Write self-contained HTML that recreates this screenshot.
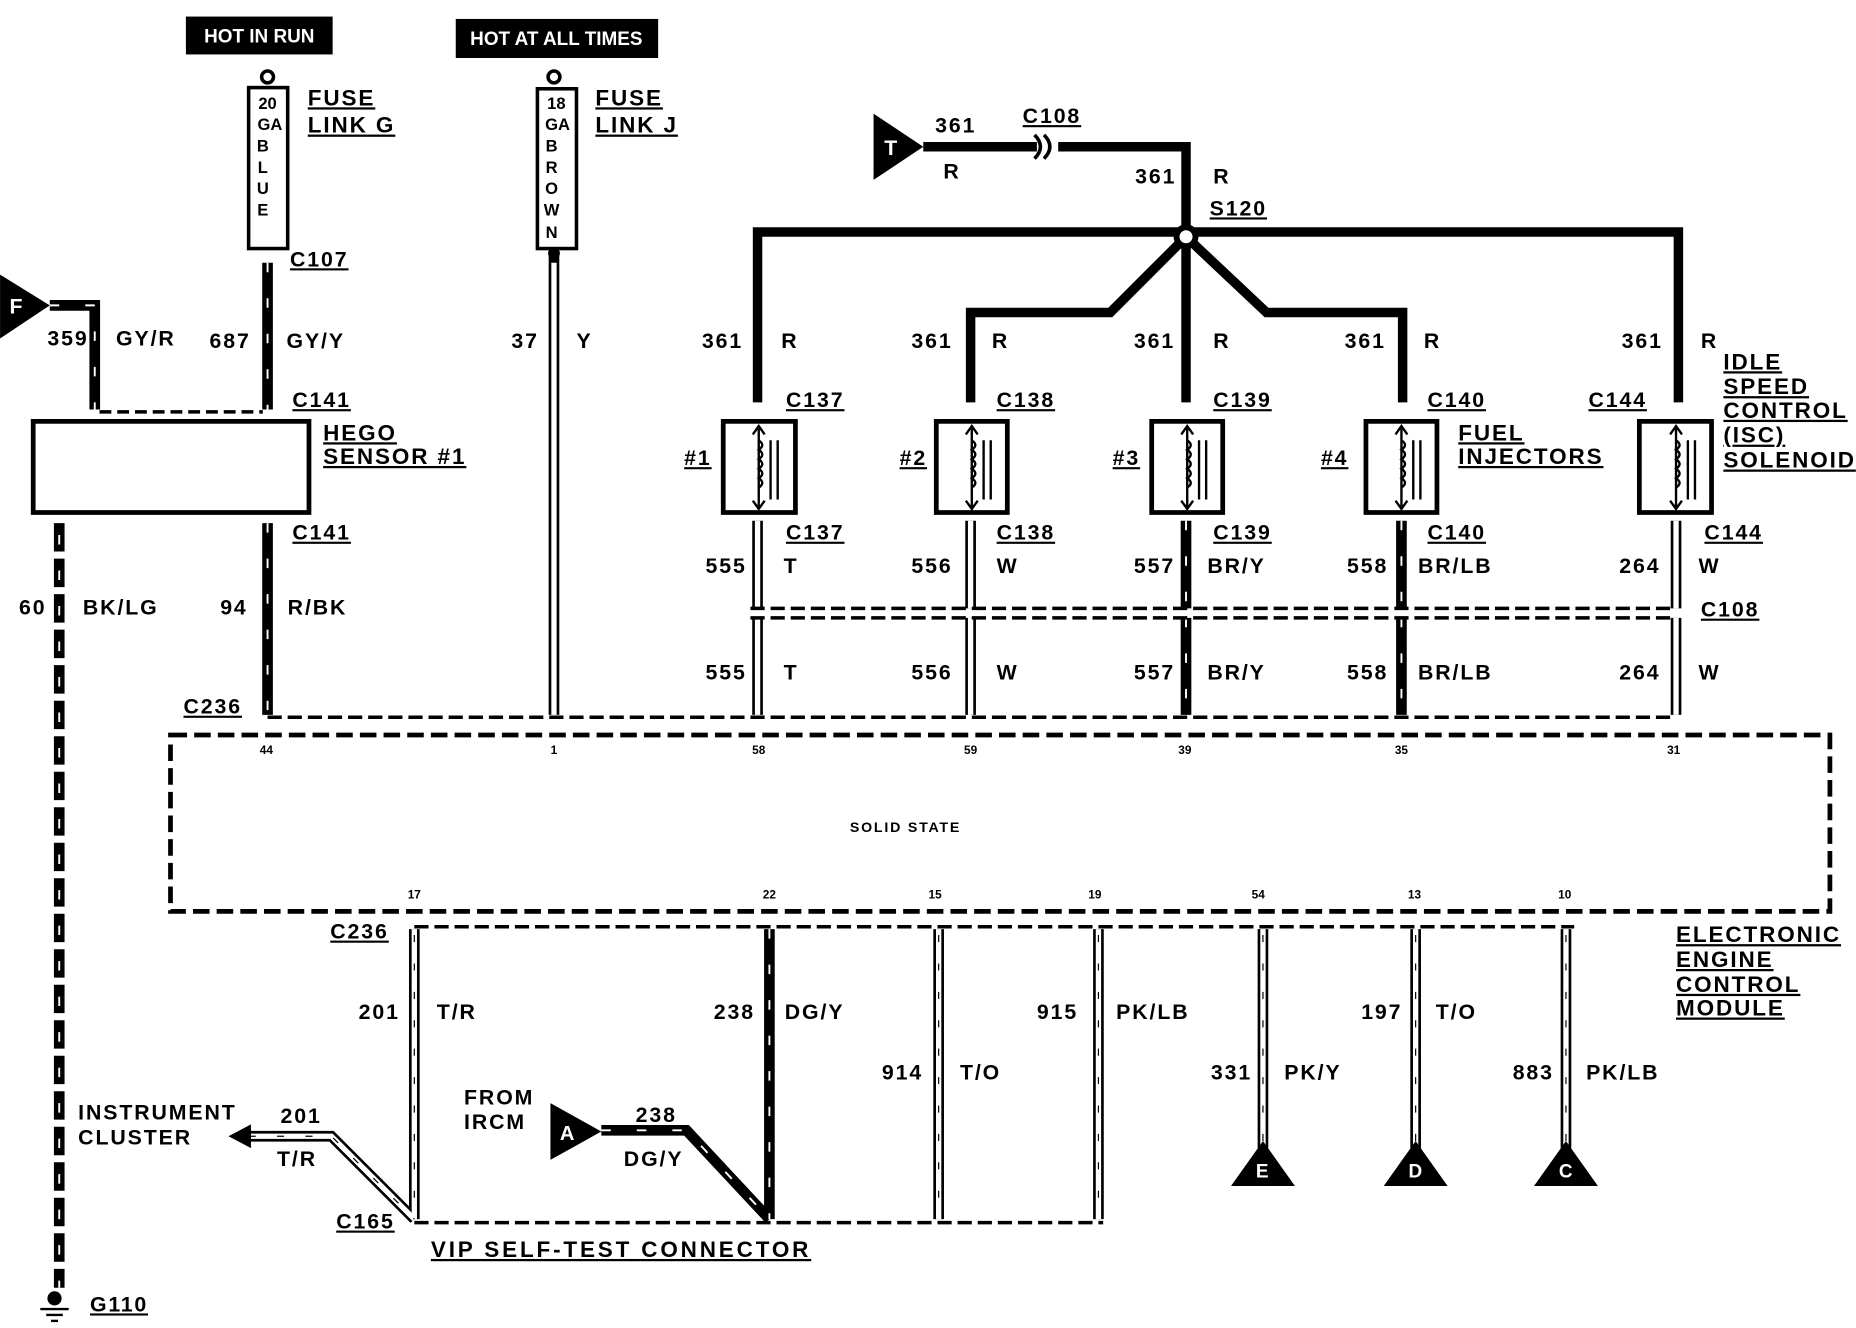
<!DOCTYPE html>
<html><head><meta charset="utf-8"><style>
html,body{margin:0;padding:0;background:#fff;}
svg{display:block;}
text{font-family:"Liberation Sans",sans-serif;font-weight:bold;fill:#000;}
.ls text{letter-spacing:1.6px;}
</style></head><body>
<svg width="1856" height="1328" viewBox="0 0 1568 1122" xmlns="http://www.w3.org/2000/svg">
<rect width="1568" height="1122" fill="#fff"/>

<!-- power labels -->
<rect x="157" y="14" width="124" height="32" fill="#000"/>
<text x="219" y="36" font-size="16" style="fill:#fff" text-anchor="middle">HOT IN RUN</text>
<rect x="385" y="16" width="171" height="33" fill="#000"/>
<text x="470" y="38" font-size="16" style="fill:#fff" text-anchor="middle">HOT AT ALL TIMES</text>

<!-- fuses -->
<circle cx="226" cy="65" r="5" fill="none" stroke="#000" stroke-width="3"/>
<rect x="210" y="74" width="33" height="136" fill="#fff" stroke="#000" stroke-width="3"/>
<g font-size="14" text-anchor="middle" style="font-weight:normal">
<text x="226" y="92">20</text><text x="228" y="110">GA</text><text x="222" y="128">B</text><text x="222" y="146">L</text><text x="222" y="164">U</text><text x="222" y="182">E</text>
</g>
<circle cx="468" cy="65" r="5" fill="none" stroke="#000" stroke-width="3"/>
<rect x="454" y="75" width="33" height="135" fill="#fff" stroke="#000" stroke-width="3"/>
<g font-size="14" text-anchor="middle" style="font-weight:normal">
<text x="470" y="92">18</text><text x="471" y="110">GA</text><text x="466" y="128">B</text><text x="466" y="146">R</text><text x="466" y="164">O</text><text x="466" y="182">W</text><text x="466" y="201">N</text>
</g>
<g font-size="19" text-decoration="underline" class="ls">
<text x="260" y="89">FUSE</text><text x="260" y="112">LINK G</text>
<text x="503" y="89">FUSE</text><text x="503" y="112">LINK J</text>
</g>

<!-- F triangle -->
<polygon points="0,232 42,258 0,286" fill="#000"/>
<text x="8" y="265" font-size="18" style="fill:#fff">F</text>

<!-- hatched black wires -->
<g stroke="#000" stroke-width="9" fill="none">
<polyline points="42,258 80,258 80,346"/>
<line x1="226" y1="222" x2="226" y2="346"/>
<line x1="226" y1="442" x2="226" y2="604"/>
<line x1="1002" y1="440" x2="1002" y2="514"/>
<line x1="1002" y1="522" x2="1002" y2="604"/>
<line x1="1184" y1="440" x2="1184" y2="514"/>
<line x1="1184" y1="522" x2="1184" y2="604"/>
<line x1="650" y1="785" x2="650" y2="1030"/>
<polyline points="508,955 580,955 650,1030"/>
</g>
<g stroke="#fff" stroke-width="1.6" fill="none" stroke-dasharray="8 22">
<polyline points="42,258 80,258 80,346"/>
<line x1="226" y1="222" x2="226" y2="346"/>
<line x1="226" y1="442" x2="226" y2="604"/>
<line x1="1002" y1="440" x2="1002" y2="514"/>
<line x1="1002" y1="522" x2="1002" y2="604"/>
<line x1="1184" y1="440" x2="1184" y2="514"/>
<line x1="1184" y1="522" x2="1184" y2="604"/>
<line x1="650" y1="785" x2="650" y2="1030"/>
<polyline points="508,955 580,955 650,1030"/>
</g>
<!-- wire 60 -->
<line x1="50" y1="442" x2="50" y2="1088" stroke="#000" stroke-width="9" stroke-dasharray="24 6"/>
<line x1="50" y1="452" x2="50" y2="1088" stroke="#fff" stroke-width="1.6" stroke-dasharray="8 22"/>
<!-- ground -->
<circle cx="46" cy="1097" r="6" fill="#000"/>
<line x1="34" y1="1106" x2="58" y2="1106" stroke="#000" stroke-width="2"/>
<line x1="39" y1="1111" x2="53" y2="1111" stroke="#000" stroke-width="2"/>
<line x1="43" y1="1116" x2="49" y2="1116" stroke="#000" stroke-width="2"/>
<text x="76" y="1108" font-size="18" text-decoration="underline" style="letter-spacing:1.5px">G110</text>

<!-- white wires (double line) -->
<g stroke="#000" stroke-width="9" fill="none">
<line x1="468" y1="212" x2="468" y2="604"/>
<line x1="640" y1="440" x2="640" y2="514"/><line x1="640" y1="522" x2="640" y2="604"/>
<line x1="820" y1="440" x2="820" y2="514"/><line x1="820" y1="522" x2="820" y2="604"/>
<line x1="1416" y1="440" x2="1416" y2="514"/><line x1="1416" y1="522" x2="1416" y2="604"/>
<line x1="350" y1="785" x2="350" y2="1030"/>
<line x1="793" y1="785" x2="793" y2="1030"/>
<line x1="928" y1="785" x2="928" y2="1030"/>
<line x1="1067" y1="785" x2="1067" y2="970"/>
<line x1="1196" y1="785" x2="1196" y2="970"/>
<line x1="1323" y1="785" x2="1323" y2="970"/>
<polyline points="205,960 280,960 350,1030"/>
</g>
<g stroke="#fff" stroke-width="4.5" fill="none">
<line x1="468" y1="222" x2="468" y2="604"/>
<line x1="640" y1="440" x2="640" y2="514"/><line x1="640" y1="522" x2="640" y2="604"/>
<line x1="820" y1="440" x2="820" y2="514"/><line x1="820" y1="522" x2="820" y2="604"/>
<line x1="1416" y1="440" x2="1416" y2="514"/><line x1="1416" y1="522" x2="1416" y2="604"/>
<line x1="350" y1="785" x2="350" y2="1030"/>
<line x1="793" y1="785" x2="793" y2="1030"/>
<line x1="928" y1="785" x2="928" y2="1030"/>
<line x1="1067" y1="785" x2="1067" y2="970"/>
<line x1="1196" y1="785" x2="1196" y2="970"/>
<line x1="1323" y1="785" x2="1323" y2="970"/>
<polyline points="205,960 280,960 350,1030"/>
</g>
<g stroke="#000" stroke-width="1" fill="none" stroke-dasharray="6 18">
<line x1="350" y1="790" x2="350" y2="1030"/>
<line x1="793" y1="790" x2="793" y2="1030"/>
<line x1="928" y1="790" x2="928" y2="1030"/>
<line x1="1067" y1="790" x2="1067" y2="970"/>
<line x1="1196" y1="790" x2="1196" y2="970"/>
<line x1="1323" y1="790" x2="1323" y2="970"/>
<polyline points="210,960 280,960 350,1030"/>
</g>
<polygon points="193,960 212,950 212,970" fill="#000"/>
<circle cx="468" cy="214" r="5" fill="#000"/>

<!-- top 361 harness -->
<polygon points="738,96 780,124 738,152" fill="#000"/>
<text x="747" y="131" font-size="18" style="fill:#fff">T</text>
<g stroke="#000" stroke-width="8" fill="none">
<line x1="780" y1="124" x2="876" y2="124"/>
<polyline points="894,124 1002,124 1002,340"/>
<polyline points="1002,196 640,196 640,340"/>
<polyline points="1002,196 1418,196 1418,340"/>
<polyline points="1002,200 938,264 820,264 820,340"/>
<polyline points="1002,200 1070,264 1185,264 1185,340"/>
</g>
<path d="M874,114 Q884,124 874,134 M882,114 Q892,124 882,134" stroke="#000" stroke-width="3" fill="none"/>
<circle cx="1002" cy="200" r="8" fill="#fff" stroke="#000" stroke-width="5"/>

<!-- HEGO -->
<rect x="28" y="356" width="233" height="77" fill="#fff" stroke="#000" stroke-width="4"/>
<g stroke="#000" stroke-width="3" stroke-dasharray="10 5"><line x1="84" y1="348" x2="222" y2="348"/></g>
<g font-size="19" text-decoration="underline" class="ls">
<text x="273" y="372">HEGO</text><text x="273" y="392">SENSOR #1</text>
</g>

<!-- injectors -->
<g fill="#fff" stroke="#000" stroke-width="4">
<rect x="611" y="356" width="61" height="77"/>
<rect x="791" y="356" width="60" height="77"/>
<rect x="973" y="356" width="60" height="77"/>
<rect x="1154" y="356" width="60" height="77"/>
<rect x="1385" y="356" width="61" height="77"/>
</g>
<g stroke="#000" stroke-width="2" fill="none">
<path d="M641,362 V428 M636,367 L641,360 L646,367 M636,423 L641,430 L646,423 M641,372 q6,4 0,8 q6,4 0,8 q6,4 0,8 q6,4 0,8 q6,4 0,8 M651,372 V422 M657,372 V422"/>
<path d="M821,362 V428 M816,367 L821,360 L826,367 M816,423 L821,430 L826,423 M821,372 q6,4 0,8 q6,4 0,8 q6,4 0,8 q6,4 0,8 q6,4 0,8 M831,372 V422 M837,372 V422"/>
<path d="M1003,362 V428 M998,367 L1003,360 L1008,367 M998,423 L1003,430 L1008,423 M1003,372 q6,4 0,8 q6,4 0,8 q6,4 0,8 q6,4 0,8 q6,4 0,8 M1013,372 V422 M1019,372 V422"/>
<path d="M1184,362 V428 M1179,367 L1184,360 L1189,367 M1179,423 L1184,430 L1189,423 M1184,372 q6,4 0,8 q6,4 0,8 q6,4 0,8 q6,4 0,8 q6,4 0,8 M1194,372 V422 M1200,372 V422"/>
<path d="M1416,362 V428 M1411,367 L1416,360 L1421,367 M1411,423 L1416,430 L1421,423 M1416,372 q6,4 0,8 q6,4 0,8 q6,4 0,8 q6,4 0,8 q6,4 0,8 M1426,372 V422 M1432,372 V422"/>
</g>

<!-- C108 double dashed -->
<g stroke="#000" stroke-width="3" stroke-dasharray="12 5">
<line x1="634" y1="514" x2="1412" y2="514"/>
<line x1="634" y1="522" x2="1412" y2="522"/>
</g>
<line x1="226" y1="606" x2="1416" y2="606" stroke="#000" stroke-width="3" stroke-dasharray="12 5"/>

<!-- ECM -->
<rect x="144" y="621" width="1402" height="149" fill="none" stroke="#000" stroke-width="4" stroke-dasharray="14 6"/>
<g font-size="10" text-anchor="middle" style="font-weight:normal;fill:#444">
<text x="225" y="637">44</text><text x="468" y="637">1</text><text x="641" y="637">58</text><text x="820" y="637">59</text><text x="1001" y="637">39</text><text x="1184" y="637">35</text><text x="1414" y="637">31</text>
<text x="765" y="703" font-size="12" style="letter-spacing:1.5px">SOLID STATE</text>
<text x="350" y="759">17</text><text x="650" y="759">22</text><text x="790" y="759">15</text><text x="925" y="759">19</text><text x="1063" y="759">54</text><text x="1195" y="759">13</text><text x="1322" y="759">10</text>
</g>
<line x1="350" y1="783" x2="1330" y2="783" stroke="#000" stroke-width="3" stroke-dasharray="12 5"/>
<line x1="350" y1="1033" x2="932" y2="1033" stroke="#000" stroke-width="3" stroke-dasharray="12 5"/>

<!-- A, E, D, C triangles -->
<polygon points="465,932 508,956 465,980" fill="#000"/>
<text x="473" y="963" font-size="17" style="fill:#fff">A</text>
<polygon points="1067,964 1040,1002 1094,1002" fill="#000"/>
<text x="1061" y="995" font-size="16" style="fill:#fff">E</text>
<polygon points="1196,964 1169,1002 1223,1002" fill="#000"/>
<text x="1190" y="995" font-size="16" style="fill:#fff">D</text>
<polygon points="1323,964 1296,1002 1350,1002" fill="#000"/>
<text x="1317" y="995" font-size="16" style="fill:#fff">C</text>

<!-- labels -->
<g font-size="18" class="ls">
<text x="40" y="292">359</text><text x="98" y="292">GY/R</text>
<text x="177" y="294">687</text><text x="242" y="294">GY/Y</text>
<text x="432" y="294">37</text><text x="487" y="294">Y</text>
<text x="16" y="519">60</text><text x="70" y="519">BK/LG</text>
<text x="186" y="519">94</text><text x="243" y="519">R/BK</text>
<text x="790" y="112">361</text><text x="797" y="151">R</text>
<text x="959" y="155">361</text><text x="1025" y="155">R</text>
<text x="593" y="294">361</text><text x="660" y="294">R</text>
<text x="770" y="294">361</text><text x="838" y="294">R</text>
<text x="958" y="294">361</text><text x="1025" y="294">R</text>
<text x="1136" y="294">361</text><text x="1203" y="294">R</text>
<text x="1370" y="294">361</text><text x="1437" y="294">R</text>
<text x="596" y="484">555</text><text x="662" y="484">T</text>
<text x="770" y="484">556</text><text x="842" y="484">W</text>
<text x="958" y="484">557</text><text x="1020" y="484">BR/Y</text>
<text x="1138" y="484">558</text><text x="1198" y="484">BR/LB</text>
<text x="1368" y="484">264</text><text x="1435" y="484">W</text>
<text x="596" y="574">555</text><text x="662" y="574">T</text>
<text x="770" y="574">556</text><text x="842" y="574">W</text>
<text x="958" y="574">557</text><text x="1020" y="574">BR/Y</text>
<text x="1138" y="574">558</text><text x="1198" y="574">BR/LB</text>
<text x="1368" y="574">264</text><text x="1435" y="574">W</text>
<text x="303" y="861">201</text><text x="369" y="861">T/R</text>
<text x="603" y="861">238</text><text x="663" y="861">DG/Y</text>
<text x="876" y="861">915</text><text x="943" y="861">PK/LB</text>
<text x="1150" y="861">197</text><text x="1213" y="861">T/O</text>
<text x="745" y="912">914</text><text x="811" y="912">T/O</text>
<text x="1023" y="912">331</text><text x="1085" y="912">PK/Y</text>
<text x="1278" y="912">883</text><text x="1340" y="912">PK/LB</text>
<text x="66" y="946">INSTRUMENT</text><text x="66" y="967">CLUSTER</text>
<text x="237" y="949">201</text><text x="234" y="985">T/R</text>
<text x="392" y="933">FROM</text><text x="392" y="954">IRCM</text>
<text x="537" y="948">238</text><text x="527" y="985">DG/Y</text>
</g>
<g font-size="18" text-decoration="underline" class="ls">
<text x="864" y="104">C108</text>
<text x="1022" y="182">S120</text>
<text x="245" y="225">C107</text>
<text x="247" y="344">C141</text><text x="247" y="456">C141</text>
<text x="664" y="344">C137</text><text x="842" y="344">C138</text><text x="1025" y="344">C139</text><text x="1206" y="344">C140</text><text x="1342" y="344">C144</text>
<text x="664" y="456">C137</text><text x="842" y="456">C138</text><text x="1025" y="456">C139</text><text x="1206" y="456">C140</text><text x="1440" y="456">C144</text>
<text x="1437" y="521">C108</text>
<text x="155" y="603">C236</text>
<text x="279" y="793">C236</text>
<text x="284" y="1038">C165</text>
<text x="578" y="393">#1</text><text x="760" y="393">#2</text><text x="940" y="393">#3</text><text x="1116" y="393">#4</text>
</g>
<g font-size="19" text-decoration="underline" class="ls">
<text x="1232" y="372">FUEL</text><text x="1232" y="392">INJECTORS</text>
<text x="1456" y="312">IDLE</text><text x="1456" y="333">SPEED</text><text x="1456" y="353">CONTROL</text><text x="1456" y="374">(ISC)</text><text x="1456" y="395">SOLENOID</text>
<text x="1416" y="796">ELECTRONIC</text><text x="1416" y="817">ENGINE</text><text x="1416" y="838">CONTROL</text><text x="1416" y="858">MODULE</text>
<text x="364" y="1062" style="letter-spacing:2.4px">VIP SELF-TEST CONNECTOR</text>
</g>
</svg>
</body></html>
